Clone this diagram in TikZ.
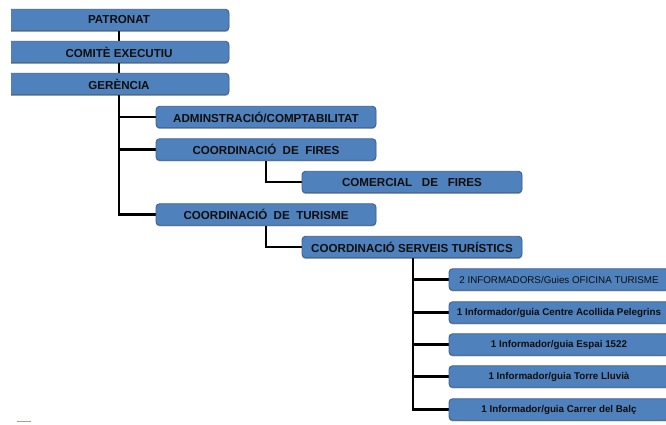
\documentclass[tikz,border=0pt]{standalone}
\usepackage{fontspec}
\setmainfont{Liberation Sans}
\usetikzlibrary{backgrounds,shadows}
\definecolor{boxfill}{HTML}{4F81BD}
\definecolor{boxline}{HTML}{3A5F8E}
\definecolor{boxtext}{HTML}{0E0E0E}
\definecolor{marker}{HTML}{A4A488}
\tikzset{
  orgbox/.style={draw=boxline, line width=0.8pt, fill=boxfill, rounded corners=3.5pt,
    minimum width=220pt, minimum height=21.5pt, inner sep=0pt, text=boxtext,
    font=\bfseries\fontsize{11.6}{13}\selectfont,
    drop shadow={shadow xshift=0pt, shadow yshift=-1.2pt, opacity=0.35, fill=black}},
  topbox/.style={orgbox, minimum width=226pt},
  infobox/.style={orgbox, font=\bfseries\fontsize{9.8}{12}\selectfont},
  link/.style={draw=black, line width=2.5pt},
}
\begin{document}
\begin{tikzpicture}[x=1pt,y=-1pt]
\useasboundingbox (0,0) rectangle (666,424);
\clip (0,0) rectangle (666,424);
\begin{scope}
\clip (11,0) rectangle (666,424);
\node[topbox] (patronat) at (116,20) {\hspace*{6pt}PATRONAT};
\node[topbox] (comite) at (116,52) {\hspace*{6pt}COMITÈ EXECUTIU};
\node[topbox] (gerencia) at (116,84) {\hspace*{6pt}GERÈNCIA};
\end{scope}
\node[orgbox] (admin) at (266,117) {ADMINSTRACIÓ/COMPTABILITAT};
\node[orgbox] (fires) at (266,149.5) {COORDINACIÓ\ \ DE\ \ FIRES};
\node[orgbox] (comercial) at (412,182) {COMERCIAL\ \ \ DE\ \ \ FIRES};
\node[orgbox] (turisme) at (266,214.5) {COORDINACIÓ\ \ DE\ \ TURISME};
\node[orgbox] (serveis) at (412,247) {COORDINACIÓ SERVEIS TURÍSTICS};
\node[infobox, font=\fontsize{9.8}{12}\selectfont] (info1) at (559,279.5) {2 INFORMADORS/Guies OFICINA TURISME};
\node[infobox] (info2) at (559,312.5) {1 Informador/guia Centre Acollida Pelegrins};
\node[infobox] (info3) at (559,344.5) {1 Informador/guia Espai 1522};
\node[infobox] (info4) at (559,376.5) {1 Informador/guia Torre Lluvià};
\node[infobox] (info5) at (559,409.5) {1 Informador/guia Carrer del Balç};
\coordinate (trunkA) at (119,0);
\coordinate (trunkC) at (413,0);
\begin{pgfonlayer}{background}
\draw[link] (patronat.south -| trunkA) -- (comite.north -| trunkA);
\draw[link] (comite.south -| trunkA) -- (gerencia.north -| trunkA);
\draw[link] (gerencia.south -| trunkA) |- (admin.west);
\draw[link] (gerencia.south -| trunkA) |- (fires.west);
\draw[link] (gerencia.south -| trunkA) |- (turisme.west);
\draw[link] (fires.south) |- (comercial.west);
\draw[link] (turisme.south) |- (serveis.west);
\draw[link] (serveis.south -| trunkC) |- (info1.west);
\draw[link] (serveis.south -| trunkC) |- (info2.west);
\draw[link] (serveis.south -| trunkC) |- (info3.west);
\draw[link] (serveis.south -| trunkC) |- (info4.west);
\draw[link] (serveis.south -| trunkC) |- (info5.west);
\end{pgfonlayer}
\draw[marker, line width=1.3pt] (17,421.5) -- (31,421.5);
\end{tikzpicture}
\end{document}
